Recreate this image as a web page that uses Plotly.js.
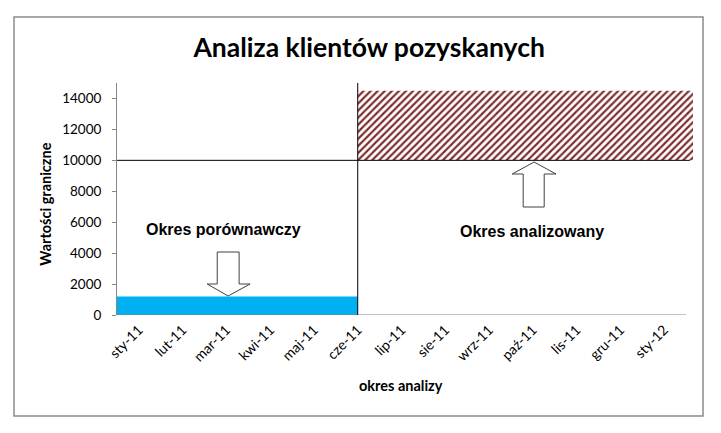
<!DOCTYPE html>
<html>
<head>
<meta charset="utf-8">
<script src="https://cdn.plot.ly/plotly-3.0.1.min.js"></script>
<style>html,body{margin:0;padding:0;background:#fff;}#chart{width:721px;height:433px;}</style>
</head>
<body>
<div id="chart"></div>
<script>
// ---- data ----
const months = ['sty-11','lut-11','mar-11','kwi-11','maj-11','cze-11','lip-11','sie-11','wrz-11','paź-11','lis-11','gru-11','sty-12'];
const yTicks = [0, 2000, 4000, 6000, 8000, 10000, 12000, 14000];
const periodNames = ['Okres porównawczy', 'Okres analizowany'];
const boundaryMonth = ['cze-11'];
const comparisonLevel = [1200];
const thresholdLevel = [10000];
const analyzedTop = [14500];

// ---- derived positions ----
const bIdx = months.indexOf(boundaryMonth[0]);
const xStart = -0.5;
const xEnd = months.length - 1 + 0.66;
const axisEnd = months.length - 0.5;

const blueX = [xStart, bIdx, bIdx, xStart, xStart];
const blueY = [0, 0, comparisonLevel[0], comparisonLevel[0], 0];
const hatchX = [bIdx, xEnd, xEnd, bIdx, bIdx];
const hatchY = [thresholdLevel[0], thresholdLevel[0], analyzedTop[0], analyzedTop[0], thresholdLevel[0]];

const traces = [
  {type:'scatter', mode:'lines', x: blueX, y: blueY, fill:'toself', fillcolor:'#00B0F0',
   line:{width:0}, hoverinfo:'skip', showlegend:false},
  {type:'scatter', mode:'lines', x: hatchX, y: hatchY, fill:'toself', fillcolor:'rgba(0,0,0,0)',
   fillpattern:{shape:'/', fgcolor:'#7f3030', bgcolor:'#ffffff', size:5, solidity:0.45},
   line:{width:0}, hoverinfo:'skip', showlegend:false}
];

function pathFrom(pts){ return 'M' + pts.map(p => p[0] + ',' + p[1]).join(' L') + ' Z'; }

// block arrows (decoration), relative to period centres
const leftC = 2.04, rightC = 9.03;
const downArrow = pathFrom([
  [leftC-0.25, 4073],[leftC+0.25, 4073],[leftC+0.25, 2004],[leftC+0.50, 2004],
  [leftC, comparisonLevel[0]+30],[leftC-0.48, 2004],[leftC-0.25, 2004]
]);
const upArrow = pathFrom([
  [rightC-0.25, 6983],[rightC+0.23, 6983],[rightC+0.23, 9116],[rightC+0.50, 9116],
  [rightC, thresholdLevel[0]-110],[rightC-0.50, 9116],[rightC-0.25, 9116]
]);

const shapes = [
  // outer chart border
  {type:'rect', xref:'paper', yref:'paper', x0:-0.1788, x1:1.0174, y0:-0.4353, y1:1.2845,
   line:{color:'#8c8c8c', width:1.5}, fillcolor:'rgba(0,0,0,0)', layer:'below'},
  // x axis line
  {type:'line', xref:'x', yref:'y', x0:xStart, x1:axisEnd, y0:0, y1:0, line:{color:'#868686', width:1}},
  // threshold line
  {type:'line', xref:'x', yref:'y', x0:xStart, x1:xEnd-0.07, y0:thresholdLevel[0], y1:thresholdLevel[0], line:{color:'#000', width:1}},
  // period boundary line
  {type:'line', xref:'x', yref:'y', x0:bIdx, x1:bIdx, y0:0, y1:15000, line:{color:'#000', width:1}},
  {type:'path', xref:'x', yref:'y', path: downArrow, fillcolor:'#fff', line:{color:'#404040', width:1}},
  {type:'path', xref:'x', yref:'y', path: upArrow, fillcolor:'#fff', line:{color:'#404040', width:1}}
];

const annotations = [
  {xref:'x', yref:'y', x:1.94, y:5500, text: periodNames[0], showarrow:false, xanchor:'center', yanchor:'middle',
   font:{family:'Liberation Sans, Arial', size:16, color:'#000', weight:'bold'}},
  {xref:'x', yref:'y', x:8.98, y:5430, text: periodNames[1], showarrow:false, xanchor:'center', yanchor:'middle',
   font:{family:'Liberation Sans, Arial', size:16, color:'#000', weight:'bold'}},
  {xref:'paper', yref:'paper', x:-0.124, y:0.478, text:'Wartości graniczne', textangle:-90, showarrow:false,
   xanchor:'center', yanchor:'middle',
   font:{family:'Lato', size:14.5, color:'#000', weight:'bold'}},
  {xref:'paper', yref:'paper', x:0.493, y:-0.302, text:'okres analizy', showarrow:false,
   xanchor:'center', yanchor:'middle',
   font:{family:'Lato', size:14.5, color:'#000', weight:'bold'}}
];

const layout = {
  width:721, height:433,
  margin:{l:117, r:28, t:83, b:118, pad:0},
  paper_bgcolor:'#fff', plot_bgcolor:'#fff',
  showlegend:false,
  title:{text:'Analiza klientów pozyskanych', x:0.512, xref:'container', y:0.889, yref:'container',
         xanchor:'center', yanchor:'middle',
         font:{family:'Lato', size:26.5, color:'#000', weight:'bold'}},
  xaxis:{type:'linear', range:[xStart, xEnd], tickvals: months.map((m,i)=>i), ticktext: months,
         tickangle:-45, ticks:'', showline:false, showgrid:false, zeroline:false,
         tickfont:{family:'Lato', size:14, color:'#000'}, ticklabelstandoff:3, fixedrange:true},
  yaxis:{range:[0,15000], tickvals: yTicks, ticktext: yTicks.map(String), ticks:'outside', ticklen:4,
         tickcolor:'#868686', showline:true, linecolor:'#868686', linewidth:1, showgrid:false, zeroline:false,
         tickfont:{family:'Lato', size:13.5, color:'#000'}, ticklabelstandoff:8, fixedrange:true},
  shapes: shapes,
  annotations: annotations
};

Plotly.newPlot('chart', traces, layout, {displayModeBar:false, staticPlot:true});
</script>
</body>
</html>
